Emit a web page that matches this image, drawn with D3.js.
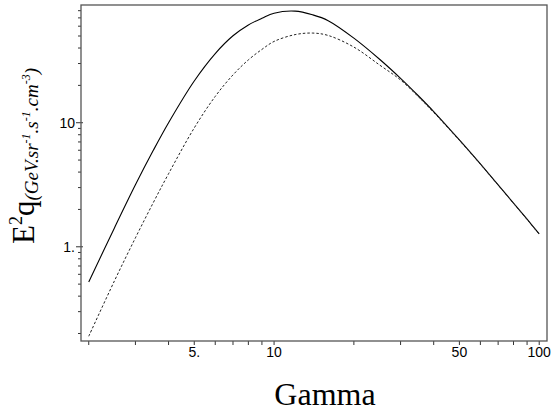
<!DOCTYPE html>
<html>
<head>
<meta charset="utf-8">
<script src="https://cdn.jsdelivr.net/npm/d3@7"></script>
<style>
  body { margin: 0; background: #fff; }
  .tick-label { font-family: "Liberation Sans", Arial, sans-serif; font-size: 14px; fill: #000; }
  .axis-title { font-family: "Liberation Serif", "Times New Roman", serif; fill: #000; }
</style>
</head>
<body>
<div id="chart"></div>
<script>
// gamma values (x) shared by both curves
const gamma = [2, 2.5, 3, 3.5, 4, 5, 6, 7, 8, 9, 10, 12, 14, 16, 20, 25, 30, 35, 40, 50, 60, 70, 80, 90, 100];
// E^2 q, solid curve
const solidVals = [0.52, 1.42, 3.16, 5.96, 10.0, 21.7, 36.1, 50.2, 61.4, 69.5, 76.4, 79.3, 74.0, 66.5, 48.1, 32.5, 22.8, 16.5, 12.3, 7.26, 4.65, 3.16, 2.25, 1.67, 1.27];
// E^2 q, dashed curve
const dashedVals = [0.19, 0.531, 1.18, 2.26, 3.88, 9.08, 16.3, 24.3, 32.1, 39.0, 45.2, 51.3, 52.8, 50.5, 40.7, 29.2, 22.1, 16.2, 12.1, 7.2, 4.63, 3.14, 2.24, 1.66, 1.26];

const xMajor = [5, 10, 50, 100];
const xMajorLabels = ['5.', '10', '50', '100'];
const xMinor = [2, 3, 4, 6, 7, 8, 9, 20, 30, 40, 60, 70, 80, 90];
const yMajor = [1, 10];
const yMajorLabels = ['1.', '10'];
const yMinor = [0.2, 0.3, 0.4, 0.5, 0.6, 0.7, 0.8, 0.9, 2, 3, 4, 5, 6, 7, 8, 9, 20, 30, 40, 50, 60, 70, 80];

const width = 553, height = 415;
const margin = { top: 5, right: 6, bottom: 74, left: 81 };

const svg = d3.select('#chart').append('svg')
    .attr('width', width)
    .attr('height', height);

const x = d3.scaleLog()
    .domain([1.87, 107])
    .range([margin.left, width - margin.right]);

const y = d3.scaleLog()
    .domain([0.174, 88.9])
    .range([height - margin.bottom, margin.top]);

const bottom = height - margin.bottom;

// x ticks
svg.append('g').selectAll('line')
    .data(xMajor.concat(xMinor))
    .join('line')
    .attr('x1', d => x(d)).attr('x2', d => x(d))
    .attr('y1', bottom).attr('y2', bottom + 4)
    .attr('stroke', '#333').attr('stroke-width', 1);

svg.append('g').selectAll('text')
    .data(xMajor)
    .join('text')
    .attr('class', 'tick-label')
    .attr('text-anchor', 'middle')
    .attr('x', d => x(d))
    .attr('y', bottom + 16)
    .text((d, i) => xMajorLabels[i]);

// y ticks
svg.append('g').selectAll('line')
    .data(yMinor)
    .join('line')
    .attr('x1', margin.left - 3).attr('x2', margin.left)
    .attr('y1', d => y(d)).attr('y2', d => y(d))
    .attr('stroke', '#333').attr('stroke-width', 1);

svg.append('g').selectAll('line')
    .data(yMajor)
    .join('line')
    .attr('x1', margin.left - 5).attr('x2', margin.left + 2)
    .attr('y1', d => y(d)).attr('y2', d => y(d))
    .attr('stroke', '#333').attr('stroke-width', 1);

svg.append('g').selectAll('text')
    .data(yMajor)
    .join('text')
    .attr('class', 'tick-label')
    .attr('text-anchor', 'end')
    .attr('x', margin.left - 6)
    .attr('y', d => y(d) + 5)
    .text((d, i) => yMajorLabels[i]);

// plot frame
svg.append('rect')
    .attr('x', margin.left)
    .attr('y', margin.top)
    .attr('width', width - margin.left - margin.right)
    .attr('height', height - margin.top - margin.bottom)
    .attr('fill', 'none')
    .attr('stroke', '#555')
    .attr('stroke-width', 1.3);

// curves
const line = d3.line()
    .x(d => x(d[0]))
    .y(d => y(d[1]))
    .curve(d3.curveCatmullRom);

svg.append('path')
    .datum(gamma.map((g, i) => [g, solidVals[i]]))
    .attr('fill', 'none')
    .attr('stroke', '#000')
    .attr('stroke-width', 1.1)
    .attr('d', line);

svg.append('path')
    .datum(gamma.map((g, i) => [g, dashedVals[i]]))
    .attr('fill', 'none')
    .attr('stroke', '#222')
    .attr('stroke-width', 1)
    .attr('stroke-dasharray', '2.5,2')
    .attr('d', line);

// axis titles
svg.append('text')
    .attr('class', 'axis-title')
    .attr('text-anchor', 'middle')
    .attr('x', 325)
    .attr('y', 405)
    .style('font-size', '32px')
    .text('Gamma');

const yt = svg.append('text')
    .attr('class', 'axis-title')
    .attr('transform', 'translate(34,244) rotate(-90)')
    .style('font-size', '31px');
yt.append('tspan').text('E');
yt.append('tspan').attr('dy', -12).style('font-size', '18px').text('2');
yt.append('tspan').attr('dy', 12).text('q');
yt.append('tspan').attr('dy', 4).style('font-size', '19px').style('font-style', 'italic').text('(GeV.sr');
yt.append('tspan').attr('dy', -8).style('font-size', '12px').style('font-style', 'italic').text('-1');
yt.append('tspan').attr('dy', 8).style('font-size', '19px').style('font-style', 'italic').text('.s');
yt.append('tspan').attr('dy', -8).style('font-size', '12px').style('font-style', 'italic').text('-1');
yt.append('tspan').attr('dy', 8).style('font-size', '19px').style('font-style', 'italic').text('.cm');
yt.append('tspan').attr('dy', -8).style('font-size', '12px').style('font-style', 'italic').text('-3');
yt.append('tspan').attr('dy', 8).style('font-size', '19px').style('font-style', 'italic').text(')');
</script>
</body>
</html>
